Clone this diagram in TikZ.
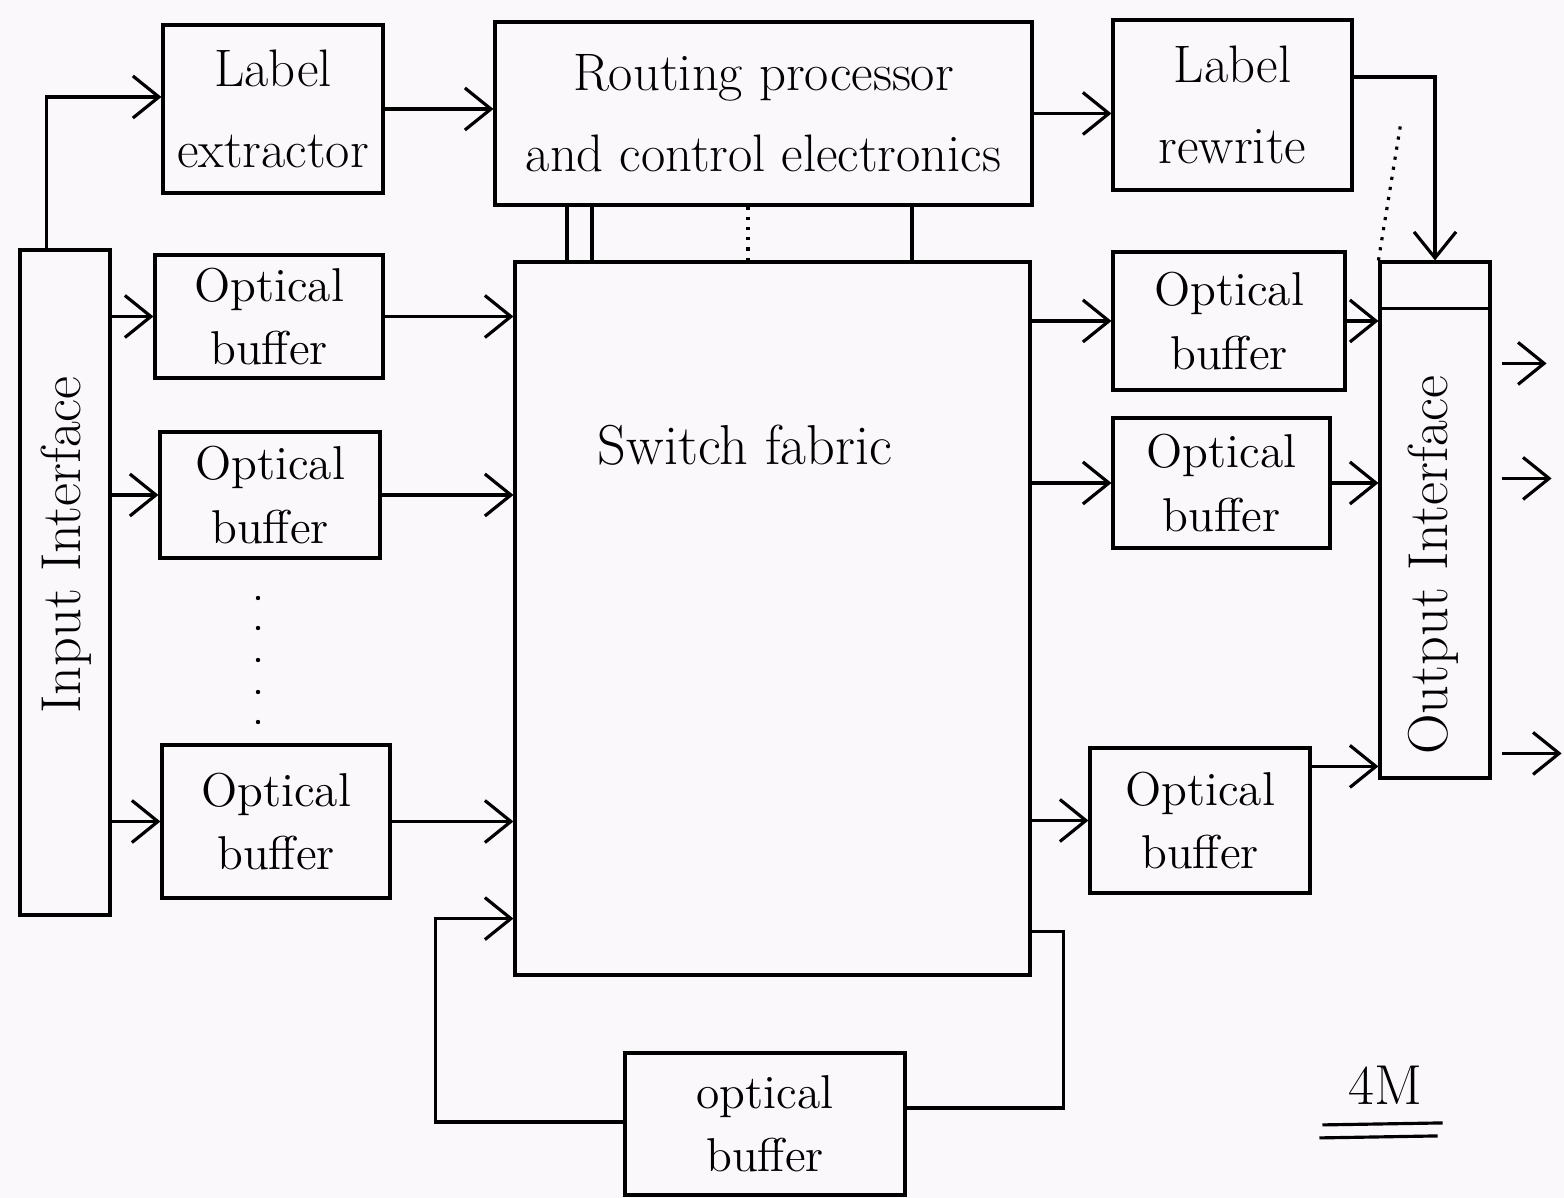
\documentclass[tikz,border=0pt]{standalone}
\usetikzlibrary{arrows.meta,calc}
\definecolor{paper}{RGB}{251,248,251}
\newcommand\pbox[6]{\node[box, minimum width={(#4-#2)*0.01cm}, minimum height={(#5-#3)*0.01cm}] (#1) at ({(#2+#4)/2},{(#3+#5)/2}) {#6};}
\begin{document}
\begin{tikzpicture}[x=0.01cm,y=-0.01cm,
  box/.style={draw, line width=0.9pt, inner sep=0pt, align=center, font=\fontsize{15}{23}\selectfont},
  bufs/.style={font=\fontsize{13.5}{18}\selectfont},
  txt/.style={inner sep=0pt, font=\fontsize{16}{20}\selectfont},
  ln/.style={line width=0.9pt},
  arr/.style={line width=0.9pt, -{Straight Barb[length=2.6mm,width=4.2mm]}}]
\fill[paper] (0,0) rectangle (1564,1198);
\useasboundingbox (0,0) rectangle (1564,1198);
% boxes
\pbox{ii}{20}{250}{110}{915}{}
\node[txt, rotate=90] (iit) at (66,545) {Input Interface};
\pbox{le}{163}{25}{383}{193}{Label\\extractor}
\pbox{rp}{495}{22}{1032}{205}{Routing processor\\and control electronics}
\pbox{lr}{1113}{20}{1352}{190}{Label\\rewrite}
\tikzset{box/.append style={bufs}}
\pbox{ob1}{155}{255}{383}{378}{Optical\\buffer}
\pbox{ob2}{160}{432}{380}{558}{Optical\\buffer}
\pbox{ob3}{162}{745}{390}{898}{Optical\\buffer}
\pbox{rb1}{1113}{252}{1345}{390}{Optical\\buffer}
\pbox{rb2}{1113}{418}{1330}{548}{Optical\\buffer}
\pbox{rb3}{1090}{748}{1310}{893}{Optical\\buffer}
\pbox{bb}{625}{1053}{905}{1195}{optical\\buffer}
\pbox{sf}{515}{262}{1030}{975}{}
\node[txt] (sft) at (745,445) {Switch fabric};
\pbox{oi}{1380}{262}{1490}{778}{}
\draw[ln] ($(oi.north west)+(0,48)$) -- ($(oi.north east)+(0,48)$);
\node[txt, rotate=90] (oit) at (1433,565) {Output Interface};
% dots between buffers
\foreach \yy in {598,628,660,692,722} \fill (258,\yy) circle (2.2);
% input side
\draw[arr] ($(ii.north west)+(28,0)$) |- ($(le.west)+(0,-12)$);
\draw[arr] (ob1.west -| ii.east) -- (ob1.west);
\draw[arr] (ob2.west -| ii.east) -- (ob2.west);
\draw[arr] (ob3.west -| ii.east) -- (ob3.west);
\draw[arr] (ob1.east) -- (ob1.east -| sf.west);
\draw[arr] (ob2.east) -- (ob2.east -| sf.west);
\draw[arr] (ob3.east) -- (ob3.east -| sf.west);
% control
\draw[arr] (le.east) -- (le.east -| rp.west);
\draw[arr] (rp.east) -- (rp.east -| lr.west);
\draw[arr] ($(lr.east)+(0,-28)$) -| (oi.north);
\foreach \xx in {567,592,912} \draw[ln] (rp.south -| \xx,0) -- (sf.north -| \xx,0);
\draw[line width=0.9pt, dotted] (rp.south -| 748,0) -- (sf.north -| 748,0);
\draw[line width=0.9pt, dotted] (oi.north west) -- ++(22,-135);
% output side
\draw[arr] (rb1.west -| sf.east) -- (rb1.west);
\draw[arr] (rb2.west -| sf.east) -- (rb2.west);
\draw[arr] (rb3.west -| sf.east) -- (rb3.west);
\draw[arr] (rb1.east) -- (rb1.east -| oi.west);
\draw[arr] (rb2.east) -- (rb2.east -| oi.west);
\coordinate (r3o) at ($(rb3.north east)+(0,20)$);
\draw[arr] (r3o) -- (r3o -| oi.west);
\draw[arr] ($(oi.north east)+(10,103)$) -- ++(45,0);
\draw[arr] ($(oi.north east)+(10,218)$) -- ++(50,0);
\draw[arr] ($(oi.north east)+(10,493)$) -- ++(60,0);
% recirculation loop
\draw[ln] ($(sf.south east)+(0,-45)$) -| ($(bb.east)+(157,-16)$) -- ($(bb.east)+(0,-16)$);
\draw[arr] ($(bb.west)+(0,-2)$) -| ($(sf.south west)+(-78,-58)$) -- ($(sf.south west)+(0,-58)$);
% mark
\node[txt] (mk) at (1385,1085) {4M};
\draw[ln] ($(mk.south west)+(-25,20)$) -- ($(mk.south east)+(20,18)$);
\draw[ln] ($(mk.south west)+(-28,33)$) -- ($(mk.south east)+(15,31)$);
\end{tikzpicture}
\end{document}
